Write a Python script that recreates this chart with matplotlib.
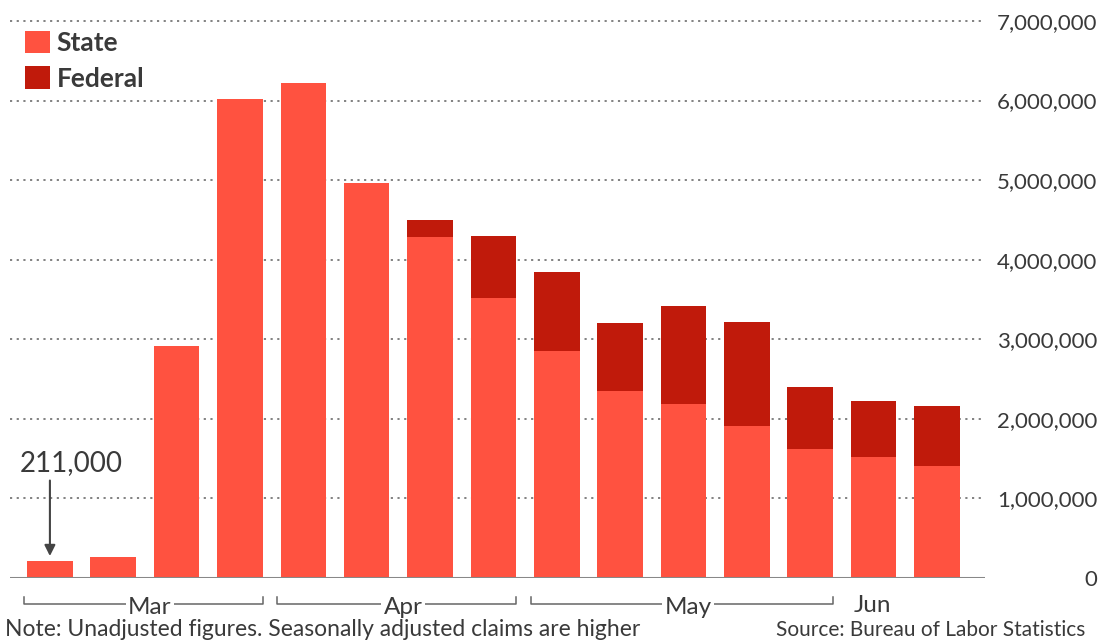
import numpy as np
import matplotlib.pyplot as plt
from matplotlib.patches import Patch
from matplotlib.transforms import blended_transform_factory

# weekly initial jobless claims, Mar-Jun 2020
state = [211000, 260000, 2920000, 6015000, 6215000, 4965000, 4285000, 3520000,
         2850000, 2350000, 2185000, 1910000, 1620000, 1520000, 1410000]
federal = [0, 0, 0, 0, 0, 0, 215000, 780000,
           995000, 855000, 1235000, 1310000, 780000, 710000, 750000]
yticks = [0, 1000000, 2000000, 3000000, 4000000, 5000000, 6000000, 7000000]
months = ['Mar', 'Apr', 'May', 'Jun']
month_first = [0, 4, 8, 13]
month_last = [3, 7, 12, 14]

STATE_C = '#FF5240'
FED_C = '#C01A0B'
TXT = '#3a3a3a'

plt.rcParams['font.family'] = ['Lato', 'DejaVu Sans']

fig = plt.figure(figsize=(11.12, 6.43), dpi=100)
W, H = 1112, 643
ax = fig.add_axes([10 / W, 1 - 578 / H, 975 / W, 578 / H])

x = np.arange(len(state))
bw = 0.72
ax.bar(x, state, width=bw, color=STATE_C, zorder=2)
ax.bar(x, federal, width=bw, bottom=state, color=FED_C, zorder=2)

ax.set_xlim(-0.63, 14.76)
ax.set_ylim(0, 7264000)

# gridlines + right-side labels
for v in yticks[1:]:
    ax.axhline(v, color='#777777', lw=1.3, ls=(0, (1.2, 2.5)), zorder=1)
ax.axhline(0, color='#888888', lw=2.2, zorder=3)

ax.yaxis.tick_right()
ax.set_yticks(yticks)
ax.set_yticklabels([f'{v:,}' for v in yticks])
ax.tick_params(axis='y', length=0, pad=81, labelsize=16, labelcolor=TXT)
for lab in ax.get_yticklabels():
    lab.set_horizontalalignment('right')
ax.set_xticks([])
for s in ax.spines.values():
    s.set_visible(False)

# month brackets under the axis
tr = blended_transform_factory(ax.transData, ax.transAxes)
yb = -26 / 578
ytk = -19 / 578
for m, a, b in zip(months, month_first, month_last):
    if m == 'Jun':
        ax.text(a - bw / 2 + 0.05, yb - 2 / 578, m, transform=tr, ha='left', va='center',
                fontsize=17.5, color=TXT)
        continue
    x0, x1 = a - bw / 2 - 0.05, b + bw / 2
    ax.plot([x0, x0, x1, x1], [ytk, yb, yb, ytk], transform=tr, color='#666666',
            lw=1.1, clip_on=False)
    ax.text((x0 + x1) / 2 + 0.1, yb - 3 / 578, m, transform=tr, ha='center',
            va='center', fontsize=17.5, color=TXT,
            bbox=dict(facecolor='white', edgecolor='none', pad=1.5))

# annotation for the first week
ax.annotate('', xy=(0, state[0] + 30000), xytext=(0, 1260000),
            arrowprops=dict(arrowstyle='-|>', color='#444444', lw=1.5,
                            mutation_scale=16))
ax.text(-0.48, 1440000, '211,000', ha='left', va='center', fontsize=20, color=TXT)

# legend
handles = [Patch(facecolor=STATE_C, label='State'), Patch(facecolor=FED_C, label='Federal')]
leg = ax.legend(handles=handles, loc='upper left', bbox_to_anchor=(15 / 975, 1 - 31 / 578),
                frameon=False, fontsize=19, handlelength=0.95, handleheight=0.92,
                handletextpad=0.25, labelspacing=0.42, borderpad=0, borderaxespad=0)
for t in leg.get_texts():
    t.set_color(TXT)
    t.set_fontweight('bold')

fig.text(5 / W, 1 - 630 / H, 'Note: Unadjusted figures. Seasonally adjusted claims are higher',
         ha='left', va='center', fontsize=16.5, color=TXT)
fig.text(1085 / W, 1 - 630 / H, 'Source: Bureau of Labor Statistics',
         ha='right', va='center', fontsize=15, color=TXT)

fig.savefig('out.png', dpi=100)
